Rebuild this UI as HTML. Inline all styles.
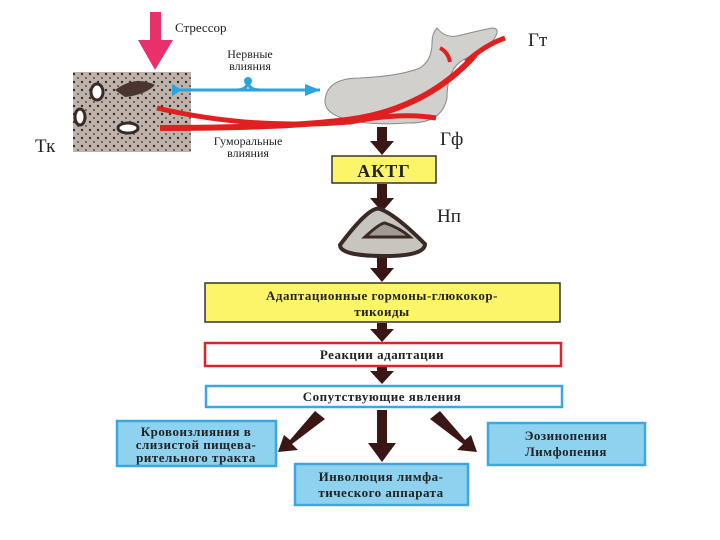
<!DOCTYPE html>
<html><head><meta charset="utf-8"><style>
html,body{margin:0;padding:0;background:#fff;}
svg{display:block;font-family:"Liberation Serif",serif;}
</style></head><body>
<svg width="720" height="540" viewBox="0 0 720 540" xmlns="http://www.w3.org/2000/svg">
<defs>
<pattern id="tis" width="8" height="8" patternUnits="userSpaceOnUse">
<rect width="8" height="8" fill="#bdb3ab"/><circle cx="2" cy="2" r="1.2" fill="#3a2a25"/><circle cx="6" cy="6" r="1" fill="#5a4a45"/>
</pattern>
</defs>
<rect x="150" y="12" width="11" height="30" fill="#e8306a"/>
<polygon points="138,40 173,40 155,70" fill="#e8306a"/>
<text x="175" y="32" font-size="13" fill="#222">Стрессор</text>
<rect x="73" y="72" width="118" height="80" fill="url(#tis)"/>
<path d="M115 90 q20 -15 40 -5 q-10 10 -30 12z" fill="#4a3530"/>
<ellipse cx="97" cy="92" rx="6" ry="8" fill="#fff" stroke="#3a2a25" stroke-width="3"/>
<ellipse cx="80" cy="117" rx="5" ry="8" fill="#fff" stroke="#3a2a25" stroke-width="3"/>
<ellipse cx="128" cy="128" rx="10" ry="5" fill="#fff" stroke="#3a2a25" stroke-width="3"/>
<text x="35" y="152" font-size="19" fill="#222">Тк</text>
<path d="M176 90 L320 90" stroke="#2aa3e0" stroke-width="3" fill="none"/>
<polygon points="172,84 182,90 172,96" fill="#2aa3e0"/>
<polygon points="305,84 320,90 305,96" fill="#2aa3e0"/>
<circle cx="248" cy="81" r="4" fill="#2aa3e0"/>
<path d="M236 90 q12 0 12 -9 q0 9 12 9" stroke="#2aa3e0" stroke-width="3" fill="none"/>
<text x="250" y="58" font-size="12" text-anchor="middle" fill="#222">Нервные</text>
<text x="250" y="70" font-size="12" text-anchor="middle" fill="#222">влияния</text>
<text x="248" y="145" font-size="12" text-anchor="middle" fill="#222">Гуморальные</text>
<text x="248" y="157" font-size="12" text-anchor="middle" fill="#222">влияния</text>
<!-- gland -->
<path d="M325 100 q2 -22 35 -22 q40 -2 60 -10 q12 -8 12 -25 q0 -10 5 -15 q8 10 20 8 q20 -5 35 -8 q6 0 5 5 q-5 15 -30 25 q-20 8 -20 40 q-5 26 -40 25 q-40 3 -65 -5 q-18 -6 -17 -18z" fill="#d2d0cc" stroke="#888"/>
<path d="M160 128 Q 300 128 360 118 Q 430 105 475 55" stroke="#e02020" stroke-width="6" fill="none"/>
<path d="M157 108 Q 250 130 350 122 Q 400 112 436 118" stroke="#e02020" stroke-width="5" fill="none"/>
<path d="M466 62 Q 485 45 505 38" stroke="#e02020" stroke-width="5" fill="none"/>
<path d="M440 48 Q 448 52 450 62" stroke="#e02020" stroke-width="4" fill="none"/>
<text x="528" y="46" font-size="19" fill="#222">Гт</text>
<text x="440" y="145" font-size="19" fill="#222">Гф</text>
<g fill="#3a1614">
<rect x="377" y="127" width="10" height="16"/><polygon points="370,141 394,141 382,155"/>
<rect x="377" y="184" width="10" height="16"/><polygon points="370,198 394,198 382,212"/>
<rect x="377" y="258" width="10" height="12"/><polygon points="370,268 394,268 382,282"/>
<rect x="377" y="323" width="10" height="8"/><polygon points="370,329 394,329 382,342"/>
<rect x="377" y="367" width="10" height="6"/><polygon points="370,371 394,371 382,384"/>
<rect x="377" y="410" width="10" height="35"/><polygon points="368,443 396,443 382,462"/>
<polygon points="315,411 325,419 292,444 298,450 278,452 284,435 290,440"/>
<polygon points="440,411 430,419 463,444 457,450 477,452 471,435 465,440"/>
</g>
<rect x="332" y="156" width="104" height="27" fill="#fcf56a" stroke="#333" stroke-width="1.5"/>
<text x="384" y="177" font-size="18" font-weight="bold" text-anchor="middle" fill="#222" letter-spacing="1">АКТГ</text>
<path d="M340 245 q30 -40 40 -36 q15 5 45 35 q0 12 -40 12 q-45 0 -45 -11z" fill="#c8c4be" stroke="#3a2a25" stroke-width="4"/>
<path d="M365 237 q15 -14 20 -14 q15 5 25 14z" fill="#a09a92" stroke="#3a2a25" stroke-width="3"/>
<text x="437" y="222" font-size="19" fill="#222">Нп</text>
<g font-weight="bold" font-size="13" fill="#222" text-anchor="middle" letter-spacing="0.5">
<rect x="205" y="283" width="355" height="39" fill="#fcf56a" stroke="#333" stroke-width="1.5"/>
<text x="382" y="300">Адаптационные гормоны-глюкокор-</text>
<text x="382" y="316">тикоиды</text>
<rect x="205" y="343" width="356" height="23" fill="#fff" stroke="#e0202a" stroke-width="2.5"/>
<text x="382" y="359">Реакции адаптации</text>
<rect x="206" y="386" width="356" height="21" fill="#fff" stroke="#3aa8e0" stroke-width="2.5"/>
<text x="382" y="401">Сопутствующие явления</text>
<rect x="117" y="421" width="159" height="45" fill="#8fd2f0" stroke="#3aa8e0" stroke-width="2.5"/>
<text x="196" y="436">Кровоизлияния в</text>
<text x="196" y="449">слизистой пищева-</text>
<text x="196" y="462">рительного тракта</text>
<rect x="295" y="464" width="173" height="41" fill="#8fd2f0" stroke="#3aa8e0" stroke-width="2.5"/>
<text x="381" y="481">Инволюция лимфа-</text>
<text x="381" y="497">тического аппарата</text>
<rect x="488" y="423" width="157" height="42" fill="#8fd2f0" stroke="#3aa8e0" stroke-width="2.5"/>
<text x="566" y="440">Эозинопения</text>
<text x="566" y="456">Лимфопения</text>
</g>
</svg>
</body></html>
